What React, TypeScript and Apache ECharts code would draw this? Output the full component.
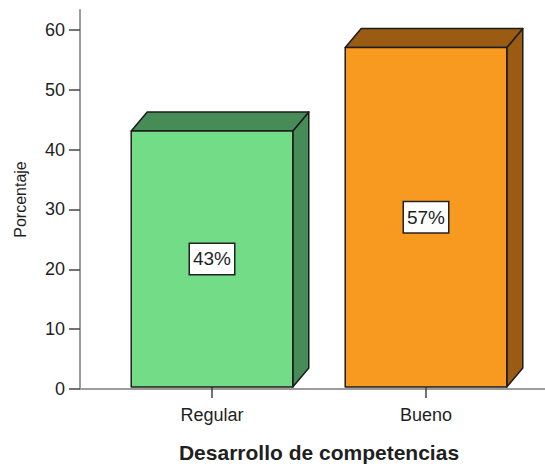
import React, { useEffect, useRef } from "react";
import * as echarts from "echarts";

// Desarrollo de competencias — porcentaje por nivel
const categories = ["Regular", "Bueno"];
const percentages = [43, 57];
const frontColors = ["#72DD86", "#F89A1F"];
const shadeColors = ["#478B56", "#9A5B12"];

const FONT = "'Liberation Sans', Arial, sans-serif";
const TEXT = "#1f1f1f";

export default function App() {
  const ref = useRef<HTMLDivElement>(null);

  useEffect(() => {
    if (!ref.current) return;
    const chart = echarts.init(ref.current, null, { renderer: "svg" });

    const depthX = 16;
    const depthY = 19;
    const edge = { stroke: "#1c1c1c", lineWidth: 1.5, lineJoin: "round" };

    chart.setOption({
      animation: false,
      backgroundColor: "#ffffff",
      textStyle: { fontFamily: FONT },
      grid: [
        { left: 80, right: 0, top: 10, bottom: 79 },
        { left: 105, right: 12, top: 10, bottom: 79 },
      ],
      xAxis: [
        {
          type: "value",
          gridIndex: 0,
          min: 0,
          max: 1,
          splitLine: { show: false },
          axisTick: { show: false },
          axisLabel: { show: false },
          axisLine: { show: true, lineStyle: { color: "#9c9c9c", width: 2 } },
        },
        {
          type: "category",
          gridIndex: 1,
          data: categories,
          axisLine: { show: false },
          axisTick: {
            show: true,
            alignWithLabel: true,
            length: 11,
            lineStyle: { color: "#444", width: 1.5 },
          },
          axisLabel: { color: TEXT, fontSize: 18, margin: 19, fontFamily: FONT },
          name: "Desarrollo de competencias",
          nameLocation: "middle",
          nameGap: 55,
          nameTextStyle: { color: TEXT, fontSize: 21, fontWeight: "bold", fontFamily: FONT },
        },
      ],
      yAxis: [
        {
          type: "value",
          gridIndex: 0,
          min: 0,
          max: 63.3,
          interval: 10,
          splitLine: { show: false },
          axisLine: { show: true, lineStyle: { color: "#9c9c9c", width: 2 } },
          axisTick: { show: true, length: 11, lineStyle: { color: "#444", width: 1.5 } },
          axisLabel: {
            color: TEXT,
            fontSize: 18,
            margin: 15,
            fontFamily: FONT,
            showMaxLabel: false,
          },
          name: "Porcentaje",
          nameLocation: "middle",
          nameGap: 52,
          nameTextStyle: { color: TEXT, fontSize: 16, fontFamily: FONT },
        },
        {
          type: "value",
          gridIndex: 1,
          min: 0,
          max: 63.3,
          show: false,
        },
      ],
      series: [
        {
          type: "custom",
          xAxisIndex: 1,
          yAxisIndex: 1,
          encode: { x: 0, y: 1 },
          data: categories.map((_, i) => [i, percentages[i]]),
          renderItem: (params: any, api: any) => {
            const i = api.value(0);
            const v = api.value(1);
            const top = api.coord([i, v]);
            const base = api.coord([i, 0]);
            const band = api.size([1, 0])[0];
            const w = band * 0.755;
            const x = top[0] - w / 2;
            const yT = top[1];
            const yB = base[1];
            const front = frontColors[i];
            const shade = shadeColors[i];
            return {
              type: "group",
              children: [
                {
                  type: "polygon",
                  shape: {
                    points: [
                      [x + w, yT],
                      [x + w + depthX, yT - depthY],
                      [x + w + depthX, yB - depthY],
                      [x + w, yB],
                    ],
                  },
                  style: { fill: shade, ...edge },
                },
                {
                  type: "polygon",
                  shape: {
                    points: [
                      [x, yT],
                      [x + depthX, yT - depthY],
                      [x + w + depthX, yT - depthY],
                      [x + w, yT],
                    ],
                  },
                  style: { fill: shade, ...edge },
                },
                {
                  type: "rect",
                  shape: { x, y: yT, width: w, height: yB - yT },
                  style: { fill: front, ...edge },
                },
                {
                  type: "text",
                  x: top[0],
                  y: (yT + yB) / 2,
                  style: {
                    text: v + "%",
                    align: "center",
                    verticalAlign: "middle",
                    fontSize: 19,
                    fontFamily: FONT,
                    fill: TEXT,
                    backgroundColor: "#ffffff",
                    borderColor: "#222",
                    borderWidth: 1.5,
                    padding: [6, 3, 5, 3],
                  },
                },
              ],
            };
          },
        },
      ],
    });

    return () => chart.dispose();
  }, []);

  return (
    <div
      ref={ref}
      style={{ position: "fixed", left: 0, top: 0, width: 545, height: 468 }}
    />
  );
}
